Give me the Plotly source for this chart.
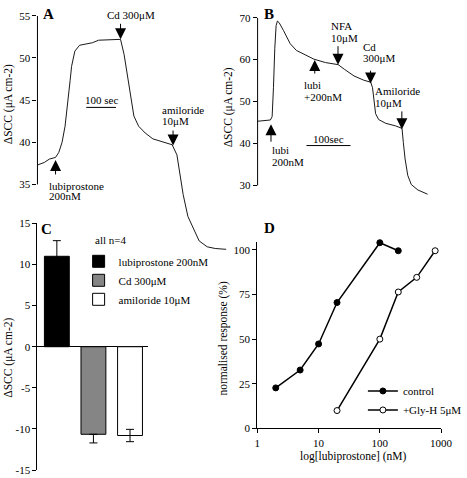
import plotly.graph_objects as go

W, H = 467, 478
FONT = "Liberation Serif, Times New Roman, Times, serif"

# ---------------- data ----------------
# Panel A: short-circuit current trace (time in s, SCC in uA cm-2)
A_time = [0, 23, 40, 61, 72, 83, 93, 104, 110, 115, 126, 142, 164, 185, 206, 249, 280,
          292, 301, 309, 316, 325, 341, 363, 389, 422, 454, 470, 481, 491, 507, 529, 545,
          572, 599, 636]
A_scc = [37.3, 37.6, 38.0, 38.2, 38.8, 40.0, 41.9, 45.0, 47.3, 49.0, 50.8, 51.5, 51.7,
         51.8, 52.1, 52.2, 52.2, 50.4, 48.4, 46.5, 44.6, 43.1, 41.9, 41.1, 40.4, 40.05,
         39.7, 38.5, 36.2, 33.8, 31.2, 29.6, 28.3, 27.6, 27.4, 27.3]
A_yticks = [35, 40, 45, 50, 55]
A_event_t = [61, 280, 457]
A_event_v = [37.9, 52.2, 39.6]
A_event_label = [["lubiprostone", "200nM"], ["Cd 300μM"], ["amiloride", "10μM"]]
A_scalebar = [164.5, 100, 44.13]   # start (s), length (s), level

# Panel B
B_time = [0, 29, 33, 34, 36, 39, 42, 45, 49, 59, 74, 88, 110, 128, 154, 183, 197, 219,
          241, 257, 261, 264, 268, 275, 291, 313, 328, 331, 335, 341, 349, 364, 386]
B_scc = [45.3, 45.6, 46.4, 48.0, 53.3, 62.6, 68.1, 69.2, 68.8, 66.9, 63.8, 62.2, 61.1,
         60.1, 59.3, 58.8, 57.7, 56.1, 55.1, 54.6, 53.3, 50.2, 47.1, 45.7, 44.8, 44.2,
         43.6, 40.2, 36.3, 32.4, 30.2, 28.9, 27.9]
B_yticks = [30, 40, 50, 60, 70]
B_event_t = [30.4, 129.8, 182.6, 256.5, 327.6]
B_event_v = [44.6, 59.9, 58.8, 54.3, 43.4]
B_event_label = [["lubi", "200nM"], ["lubi", "+200nM"], ["NFA", "10μM"], ["Cd", "300μM"],
                 ["Amiloride", "10μM"]]
B_scalebar = [111, 100, 39.5]

# Panel C
C_treat = ["lubiprostone 200nM", "Cd 300μM", "amiloride 10μM"]
C_mean = [11.0, -10.65, -10.8]
C_sem = [1.9, 1.05, 0.75]
C_yticks = [15, 10, 5, 0, -5, -10, -15]
C_n = 4

# Panel D
D_control_conc = [2, 5, 10, 20, 100, 200]
D_control_resp = [22.7, 32.7, 47.3, 70.5, 104.0, 99.5]
D_glyh_conc = [20, 100, 200, 400, 800]
D_glyh_resp = [10.0, 50.0, 76.4, 84.6, 99.5]
D_xticks = [1, 10, 100, 1000]
D_yticks = [0, 25, 50, 75, 100]

# ---------------- styling helpers ----------------
def px(x):
    return x / W

def py(y):
    return 1 - y / H

tickfont = dict(family=FONT, size=11, color="black")
fig = go.Figure()

# ---------- traces ----------
fig.add_trace(go.Scatter(x=A_time, y=A_scc, mode="lines", xaxis="x", yaxis="y",
                         line=dict(color="#1a1a1a", width=1), showlegend=False))
fig.add_trace(go.Scatter(x=B_time, y=B_scc, mode="lines", xaxis="x2", yaxis="y2",
                         line=dict(color="#1a1a1a", width=1), showlegend=False))

C_fill = ["black", "#858585", "white"]
C_err_both = [True, False, True]
for i, name in enumerate(C_treat):
    fig.add_trace(go.Bar(
        x=[name], y=[C_mean[i]], name=name, xaxis="x3", yaxis="y3", width=0.68,
        marker=dict(color=C_fill[i], line=dict(color="black", width=1)),
        error_y=dict(type="data", symmetric=False,
                     array=[C_sem[i] if (C_mean[i] > 0 or C_err_both[i]) else 0],
                     arrayminus=[C_sem[i] if (C_mean[i] < 0 or C_err_both[i]) else 0],
                     color="black", thickness=1, width=4),
        legend="legend"))

fig.add_trace(go.Scatter(x=D_control_conc, y=D_control_resp, mode="lines+markers",
                         name="control", xaxis="x4", yaxis="y4", legend="legend2",
                         cliponaxis=False,
                         line=dict(color="black", width=1.5),
                         marker=dict(size=6, color="black", line=dict(color="black", width=1))))
fig.add_trace(go.Scatter(x=D_glyh_conc, y=D_glyh_resp, mode="lines+markers",
                         name="+Gly-H 5μM", xaxis="x4", yaxis="y4", legend="legend2",
                         cliponaxis=False,
                         line=dict(color="black", width=1.5),
                         marker=dict(size=6, color="white", line=dict(color="black", width=1))))

# ---------- axes ----------
hidden = dict(visible=False, showgrid=False, zeroline=False)
A_pps, B_pps = 0.31, 0.46          # px per second
A_ppu, B_ppu = 8.65, 4.3           # px per uA
axis_common = dict(showgrid=False, zeroline=False, ticks="outside", ticklen=4,
                   tickwidth=1, tickcolor="black", tickfont=tickfont, color="black")

layout = dict(
    width=W, height=H, margin=dict(l=0, r=0, t=0, b=0),
    paper_bgcolor="white", plot_bgcolor="rgba(0,0,0,0)",
    font=dict(family=FONT, size=11, color="black"),
    barmode="overlay",
    xaxis=dict(domain=[px(36), px(250)], range=[0, (250 - 36) / A_pps], anchor="y", **hidden),
    yaxis=dict(domain=[py(255), py(10)], range=[55 - (255 - 10) / A_ppu, 55], anchor="x",
               tickvals=A_yticks, showline=False, **axis_common),
    xaxis2=dict(domain=[px(266), 1], range=[0, (W - 266) / B_pps], anchor="y2", **hidden),
    yaxis2=dict(domain=[py(195), py(12)], range=[70 - (195 - 12) / B_ppu, 70], anchor="x2",
                tickvals=B_yticks, showline=False, **axis_common),
    xaxis3=dict(domain=[px(36), px(152)], range=[-0.53, 2.505], anchor="y3",
                type="category", visible=False, showgrid=False),
    yaxis3=dict(domain=[py(476), py(223)], range=[-15, 15], anchor="x3",
                tickvals=C_yticks, ticktext=[str(v) for v in C_yticks],
                showline=True, linecolor="black", linewidth=1,
                showgrid=False, zeroline=True, zerolinecolor="black", zerolinewidth=1,
                ticks="outside", ticklen=4, tickwidth=1, tickcolor="black",
                tickfont=tickfont),
    xaxis4=dict(domain=[px(265.7), px(457.7)], type="log", range=[0, 3], anchor="y4",
                tickvals=D_xticks, ticktext=[str(v) for v in D_xticks],
                ticklabeloverflow="allow",
                showline=True, linecolor="black", linewidth=1, **axis_common),
    yaxis4=dict(domain=[py(433.3), py(241.7)], range=[0, 104.6], anchor="x4",
                tickvals=D_yticks, showline=True, linecolor="black", linewidth=1,
                **axis_common),
    legend=dict(x=px(79), y=py(247), xanchor="left", yanchor="top",
                font=dict(family=FONT, size=11), bgcolor="rgba(0,0,0,0)",
                tracegroupgap=0, traceorder="normal"),
    legend2=dict(x=px(376), y=py(380), xanchor="left", yanchor="top",
                 font=dict(family=FONT, size=11), bgcolor="rgba(0,0,0,0)",
                 tracegroupgap=0),
)
fig.update_layout(**layout)

# ---------- axis lines for traces A and B (only over tick span) ----------
for xr, yr, ticks in [("x domain", "y", A_yticks), ("x2 domain", "y2", B_yticks)]:
    fig.add_shape(type="line", xref=xr, yref=yr, x0=0, x1=0, y0=min(ticks), y1=max(ticks),
                  line=dict(color="black", width=1))

# ---------- scale bars ----------
for xr, yr, sb, txt in [("x", "y", A_scalebar, "100 sec"), ("x2", "y2", B_scalebar, "100sec")]:
    fig.add_shape(type="line", xref=xr, yref=yr, x0=sb[0], x1=sb[0] + sb[1], y0=sb[2], y1=sb[2],
                  line=dict(color="black", width=1))
    fig.add_annotation(x=sb[0] + sb[1] / 2, y=sb[2], xref=xr, yref=yr, text=txt,
                       showarrow=False, yshift=7, font=dict(family=FONT, size=11))

# ---------- event arrows ----------
A_style = [(16, -8.6, [25.7, 36.5]), (-17, -15.7, [-24.3]), (-16.6, -12.7, [-36, -25])]
B_style = [(19, -0.5, [26, 38.3]), (15, -13.2, [25, 36.7]), (-20, -9, [-38.3, -26.7]),
           (-14.3, -10, [-36.6, -26]), (-19.3, -28.7, [-38.7, -26.7])]
for xr, yr, ts, vs, labels, styles in [("x", "y", A_event_t, A_event_v, A_event_label, A_style),
                                        ("x2", "y2", B_event_t, B_event_v, B_event_label, B_style)]:
    for t, v, lab, (tail, tdx, tdy) in zip(ts, vs, labels, styles):
        fig.add_annotation(x=t, y=v, xref=xr, yref=yr, ax=0, ay=tail, axref="pixel",
                           ayref="pixel", text="", showarrow=True, arrowhead=2,
                           arrowsize=2.2, arrowwidth=1, arrowcolor="black", standoff=0)
        for line, ddy in zip(lab, tdy):
            fig.add_annotation(x=t, y=v, xref=xr, yref=yr, text=line, showarrow=False,
                               xanchor="left", yanchor="middle", xshift=tdx, yshift=-ddy,
                               font=dict(family=FONT, size=11))

# ---------- axis titles, legend title & panel letters ----------
def paper_text(x, y, text, size=11, angle=0, xanchor="center"):
    fig.add_annotation(x=px(x), y=py(y), xref="paper", yref="paper", text=text,
                       textangle=angle, showarrow=False, xanchor=xanchor, yanchor="middle",
                       font=dict(family=FONT, size=size))

ylab = "ΔSCC (μA cm-2)"
paper_text(6, 101, ylab, 11.5, -90)
paper_text(235, 104, ylab, 11.5, -90)
paper_text(6, 361, ylab, 11.5, -90)
paper_text(230, 341, "normalised response (%)", 11.5, -90)
paper_text(366, 462, "log[lubiprostone] (nM)", 11.5)
paper_text(94, 240, f"all n={C_n}", 11, xanchor="left")
for x, y, t in [(48, 8, "A"), (278, 8, "B"), (45, 229, "C"), (278, 228, "D")]:
    paper_text(x, y, f"<b>{t}</b>", 15)

fig.write_html("out.html", config={"displayModeBar": False},
               post_script="document.body.style.margin='0';document.body.style.overflow='hidden';")
